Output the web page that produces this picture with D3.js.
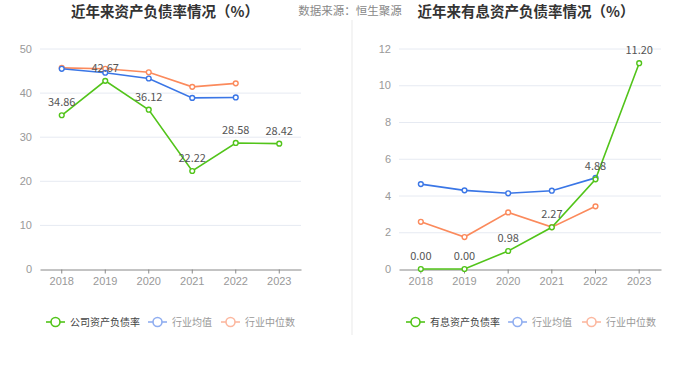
<!DOCTYPE html>
<html>
  <head>
    <meta charset="utf-8">
    <title>资产负债率</title>
    <script src="https://cdn.jsdelivr.net/npm/d3@7"></script>
    <style>
      body { margin: 0; background: #fff; }
      svg { display: block; font-family: "Noto Sans CJK SC", "Noto Sans", sans-serif; }
      .grid line { stroke: #e6eaf2; }
      .axis text { fill: #999; font-size: 11px; }
    </style>
  </head>

  <body>
    <div id="container"></div>

    <script>
      // data
      years = ["2018", "2019", "2020", "2021", "2022", "2023"];

      debtCompany = [34.86, 42.67, 36.12, 22.22, 28.58, 28.42];
      debtMean = [45.4, 44.5, 43.2, 38.8, 38.9];
      debtMedian = [45.6, 45.4, 44.6, 41.3, 42.1];
      debtTicks = [0, 10, 20, 30, 40, 50];

      interestCompany = [0.00, 0.00, 0.98, 2.27, 4.88, 11.20];
      interestMean = [4.62, 4.28, 4.12, 4.26, 4.96];
      interestMedian = [2.57, 1.74, 3.08, 2.28, 3.41];
      interestTicks = [0, 2, 4, 6, 8, 10, 12];

      colours = {green: "#52c41a", blue: "#3a76e6", orange: "#fb8a5c"};
      fadedColours = {green: "#52c41a", blue: "#90aef0", orange: "#fcb8a0"};

      width = 700;
      height = 377;

      svg = d3.select("#container").append("svg")
        .attr("width", width)
        .attr("height", height);

      // divider
      svg.append("line")
        .attr("x1", 352).attr("x2", 352)
        .attr("y1", 20).attr("y2", 335)
        .style("stroke", "#f0f0f0")
        .style("stroke-width", 1.5);

      // source note
      svg.append("text")
        .attr("x", 350)
        .attr("y", 15)
        .attr("text-anchor", "middle")
        .style("font-size", "11.5px")
        .style("fill", "#888")
        .text("数据来源：恒生聚源");

      function drawPanel(opts) {
        let g = svg.append("g");

        g.append("text")
          .attr("x", opts.titleX)
          .attr("y", 17)
          .attr("text-anchor", "middle")
          .style("font-size", "14.5px")
          .style("font-weight", "bold")
          .style("fill", "#333")
          .text(opts.title);

        let x = d3.scaleBand()
          .domain(years)
          .range([opts.left, opts.right]);
        let y = d3.scaleLinear()
          .domain([0, d3.max(opts.ticks)])
          .range([269, 48.5]);

        // grid
        g.append("g")
          .classed("grid", true)
          .selectAll("line")
            .data(opts.ticks.slice(1))
          .enter().append("line")
            .attr("x1", opts.left)
            .attr("x2", opts.right)
            .attr("y1", d => y(d) + 0.5)
            .attr("y2", d => y(d) + 0.5);

        // y axis
        g.append("g")
          .classed("axis", true)
          .attr("transform", "translate(" + opts.left + ",0)")
          .call(d3.axisLeft(y)
            .tickValues(opts.ticks)
            .tickSize(0)
            .tickPadding(8)
          )
          .call(a => a.select(".domain").remove());

        // x axis
        g.append("g")
          .classed("axis", true)
          .attr("transform", "translate(0," + 269.5 + ")")
          .call(d3.axisBottom(x)
            .tickSizeOuter(0)
            .tickSizeInner(4)
            .tickPadding(4)
          )
          .call(a => a.select(".domain").style("stroke", "#888"))
          .call(a => a.selectAll(".tick line").style("stroke", "#888"));

        let line = d3.line()
          .x((d, i) => x(years[i]) + x.bandwidth() / 2)
          .y(d => y(d));

        let series = [
          {values: opts.median, colour: colours.orange},
          {values: opts.mean, colour: colours.blue},
          {values: opts.company, colour: colours.green}
        ];

        series.forEach(s => {
          g.append("path")
            .datum(s.values)
            .attr("d", line)
            .style("fill", "none")
            .style("stroke", s.colour)
            .style("stroke-width", 1.6);

          g.selectAll(null)
            .data(s.values)
          .enter().append("circle")
            .attr("cx", (d, i) => x(years[i]) + x.bandwidth() / 2)
            .attr("cy", d => y(d))
            .attr("r", 2.4)
            .style("fill", "#fff")
            .style("stroke", s.colour)
            .style("stroke-width", 1.4);
        });

        // labels
        g.selectAll(null)
          .data(opts.company)
        .enter().append("text")
          .attr("x", (d, i) => x(years[i]) + x.bandwidth() / 2)
          .attr("y", d => y(d) - 9)
          .attr("text-anchor", "middle")
          .style("font-size", "11px")
          .style("fill", "#555")
          .text(d => d.toFixed(2));

        // legend
        let legend = [
          {name: opts.legendName, colour: fadedColours.green, text: "#444", x: opts.legendX[0]},
          {name: "行业均值", colour: fadedColours.blue, text: "#999", x: opts.legendX[1]},
          {name: "行业中位数", colour: fadedColours.orange, text: "#999", x: opts.legendX[2]}
        ];

        let items = g.selectAll(null)
          .data(legend)
        .enter().append("g")
          .attr("transform", d => "translate(" + d.x + ",322)");

        items.append("line")
          .attr("x1", 0).attr("x2", 19)
          .style("stroke", d => d.colour)
          .style("stroke-width", 1.6);
        items.append("circle")
          .attr("cx", 9.5)
          .attr("r", 4.5)
          .style("fill", "#fff")
          .style("stroke", d => d.colour)
          .style("stroke-width", 1.6);
        items.append("text")
          .attr("x", 24)
          .attr("y", 3.5)
          .style("font-size", "10px")
          .style("fill", d => d.text)
          .text(d => d.name);
      }

      drawPanel({
        title: "近年来资产负债率情况（%）",
        titleX: 165,
        left: 40,
        right: 301,
        ticks: debtTicks,
        company: debtCompany,
        mean: debtMean,
        median: debtMedian,
        legendName: "公司资产负债率",
        legendX: [46, 148, 221]
      });

      drawPanel({
        title: "近年来有息资产负债率情况（%）",
        titleX: 526,
        left: 399,
        right: 661,
        ticks: interestTicks,
        company: interestCompany,
        mean: interestMean,
        median: interestMedian,
        legendName: "有息资产负债率",
        legendX: [406, 508, 582]
      });
    </script>
  </body>
</html>
